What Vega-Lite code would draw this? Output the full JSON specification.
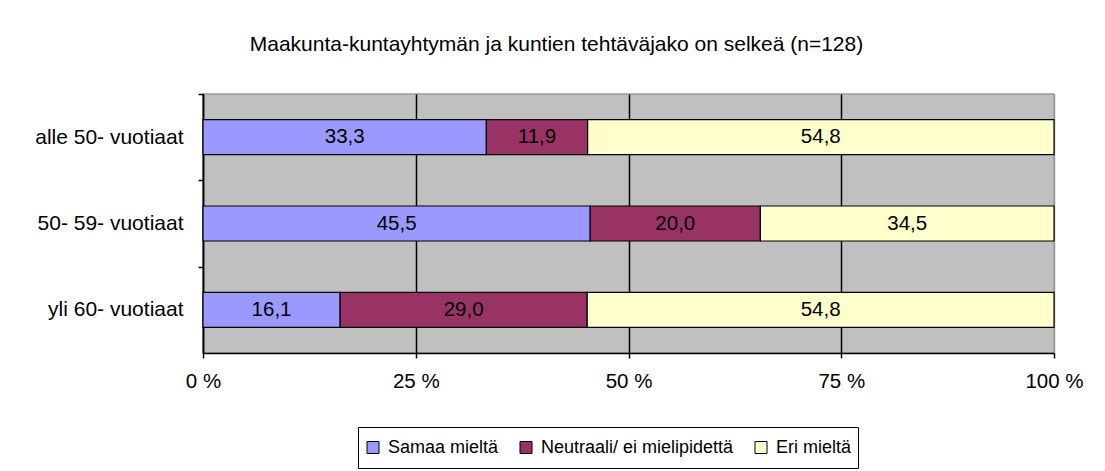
{
  "$schema": "https://vega.github.io/schema/vega-lite/v6.json",
  "width": 851,
  "height": 259,
  "autosize": {"type": "none"},
  "padding": {"left": 203, "top": 94, "right": 51, "bottom": 118},
  "background": "white",
  "config": {
    "locale": {"number": {"decimal": ",", "thousands": " ", "grouping": [3], "currency": ["", " €"]}},
    "font": "Liberation Sans",
    "view": {"fill": "#C0C0C0", "stroke": "#9a9a9a", "strokeWidth": 1.5}
  },
  "title": {
    "text": "Maakunta-kuntayhtymän ja kuntien tehtäväjako on selkeä (n=128)",
    "fontSize": 21,
    "fontWeight": "normal",
    "font": "Liberation Sans",
    "color": "black",
    "anchor": "middle",
    "dx": -72,
    "offset": 38
  },
  "data": {
    "values": [
      {"group": "alle 50- vuotiaat", "category": "Samaa mieltä", "order": 1, "value": 33.3},
      {"group": "alle 50- vuotiaat", "category": "Neutraali/ ei mielipidettä", "order": 2, "value": 11.9},
      {"group": "alle 50- vuotiaat", "category": "Eri mieltä", "order": 3, "value": 54.8},
      {"group": "50- 59- vuotiaat", "category": "Samaa mieltä", "order": 1, "value": 45.5},
      {"group": "50- 59- vuotiaat", "category": "Neutraali/ ei mielipidettä", "order": 2, "value": 20.0},
      {"group": "50- 59- vuotiaat", "category": "Eri mieltä", "order": 3, "value": 34.5},
      {"group": "yli 60- vuotiaat", "category": "Samaa mieltä", "order": 1, "value": 16.1},
      {"group": "yli 60- vuotiaat", "category": "Neutraali/ ei mielipidettä", "order": 2, "value": 29.0},
      {"group": "yli 60- vuotiaat", "category": "Eri mieltä", "order": 3, "value": 54.8}
    ]
  },
  "transform": [
    {"stack": "value", "groupby": ["group"], "sort": [{"field": "order"}], "as": ["v0", "v1"], "offset": "normalize"},
    {"calculate": "(datum.v0 + datum.v1) / 2", "as": "mid"}
  ],
  "encoding": {
    "y": {
      "field": "group",
      "type": "nominal",
      "sort": ["alle 50- vuotiaat", "50- 59- vuotiaat", "yli 60- vuotiaat"],
      "scale": {"paddingInner": 0.595, "paddingOuter": 0.2975},
      "axis": {
        "title": null,
        "domainColor": "black",
        "domainWidth": 1.5,
        "tickColor": "black",
        "tickWidth": 1.5,
        "tickSize": 5,
        "tickOffset": -43.17,
        "labelOffset": 43.17,
        "labelFontSize": 21,
        "labelPadding": 15,
        "labelColor": "black",
        "grid": false
      }
    }
  },
  "layer": [
    {
      "mark": {"type": "bar", "stroke": "black", "strokeWidth": 1.2},
      "encoding": {
        "x": {
          "field": "v0",
          "type": "quantitative",
          "scale": {"domain": [0, 1], "nice": false},
          "axis": {
            "values": [0, 0.25, 0.5, 0.75, 1],
            "labelExpr": "round(datum.value * 100) + ' %'",
            "title": null,
            "grid": true,
            "gridColor": {"condition": {"test": "datum.value == 1", "value": "#9a9a9a"}, "value": "black"},
            "gridWidth": 1.5,
            "domainColor": "black",
            "domainWidth": 1.5,
            "tickColor": "black",
            "tickWidth": 1.5,
            "tickSize": 5,
            "labelFontSize": 20.5,
            "labelPadding": 13,
            "labelColor": "black",
            "labelFlush": false
          }
        },
        "x2": {"field": "v1"},
        "color": {
          "field": "category",
          "type": "nominal",
          "sort": ["Samaa mieltä", "Neutraali/ ei mielipidettä", "Eri mieltä"],
          "scale": {
            "domain": ["Samaa mieltä", "Neutraali/ ei mielipidettä", "Eri mieltä"],
            "range": ["#9999FF", "#993366", "#FFFFCC"]
          },
          "legend": {
            "orient": "none",
            "legendX": 155,
            "legendY": 333,
            "direction": "horizontal",
            "title": null,
            "strokeColor": "black",
            "padding": 6,
            "symbolType": "square",
            "symbolSize": 144,
            "symbolStrokeColor": "black",
            "symbolStrokeWidth": 1,
            "symbolOpacity": 1,
            "labelFontSize": 18,
            "labelLimit": 400,
            "labelColor": "black",
            "labelOffset": 6,
            "columnPadding": 18,
            "clipHeight": 29
          }
        }
      }
    },
    {
      "mark": {"type": "text", "fontSize": 20.5, "color": "black"},
      "encoding": {
        "x": {"field": "mid", "type": "quantitative"},
        "text": {"field": "value", "type": "quantitative", "format": ".1f"}
      }
    }
  ]
}
